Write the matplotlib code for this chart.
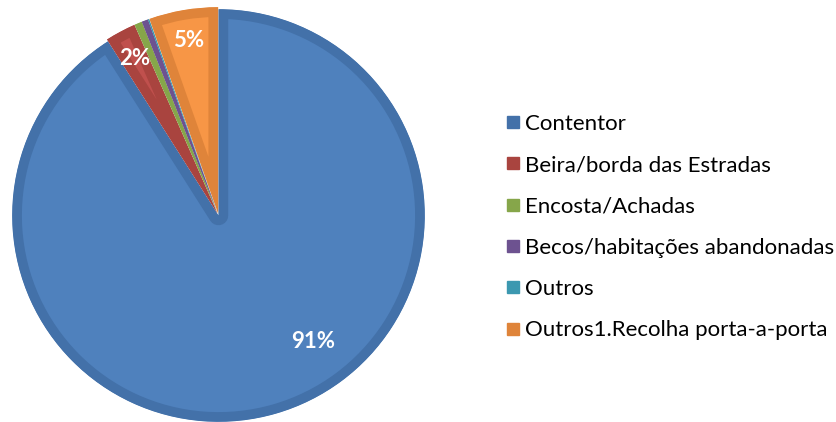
import matplotlib
matplotlib.use("Agg")
import matplotlib.pyplot as plt
from matplotlib.lines import Line2D

plt.rcParams['font.family'] = ['Lato', 'DejaVu Sans']

# data
labels = ['Contentor', 'Beira/borda das Estradas', 'Encosta/Achadas',
          'Becos/habitações abandonadas', 'Outros', 'Outros1.Recolha porta-a-porta']
shares = [91.0, 2.4, 0.6, 0.5, 0.1, 5.4]

fill_colors = ['#4F81BD', '#C0504D', '#9BBB59', '#8064A2', '#4BACC6', '#F79646']
edge_colors = ['#4371A9', '#A9443F', '#86A64A', '#6D5290', '#3C98B0', '#DF843A']

fig = plt.figure(figsize=(8.37, 4.22), dpi=100)
ax = fig.add_axes([6 / 837, -6 / 422, 425 / 837, 425 / 422])

def pct_label(p):
    return '%.0f%%' % p if p >= 2 else ''

wedges, _, autotexts = ax.pie(shares, startangle=90, counterclock=False,
                              explode=[0, 0.01, 0.01, 0.01, 0.01, 0.01],
                              autopct=pct_label, pctdistance=0.85,
                              textprops=dict(color='white', fontsize=16, fontweight='bold'))

# darker inner border like the spreadsheet style (stroke clipped to the wedge)
for w, fc, ec in zip(wedges, fill_colors, edge_colors):
    w.set_facecolor(fc)
    w.set_edgecolor(ec)
    w.set_linewidth(14)
    w.set_joinstyle('round')
    w.set_clip_on(True)
    w.set_clip_path(w.get_path(), w.get_transform())

# Excel puts the big label off the slice middle, lower right
autotexts[0].set_position((0.46, -0.61))

ax.set_aspect('equal')
ax.set_xlim(-1.03, 1.03)
ax.set_ylim(-1.03, 1.03)
ax.axis('off')

handles = [Line2D([], [], marker='s', linestyle='none', markersize=8.5,
                  markerfacecolor=ec, markeredgecolor=ec) for ec in edge_colors]
fig.legend(handles, labels, loc='center left', bbox_to_anchor=(505 / 837, 1 - 227 / 422),
           frameon=False, fontsize=16, labelspacing=0.96, handlelength=0.7,
           handletextpad=0.2, borderaxespad=0, borderpad=0)

fig.savefig('out.png', dpi=100)
